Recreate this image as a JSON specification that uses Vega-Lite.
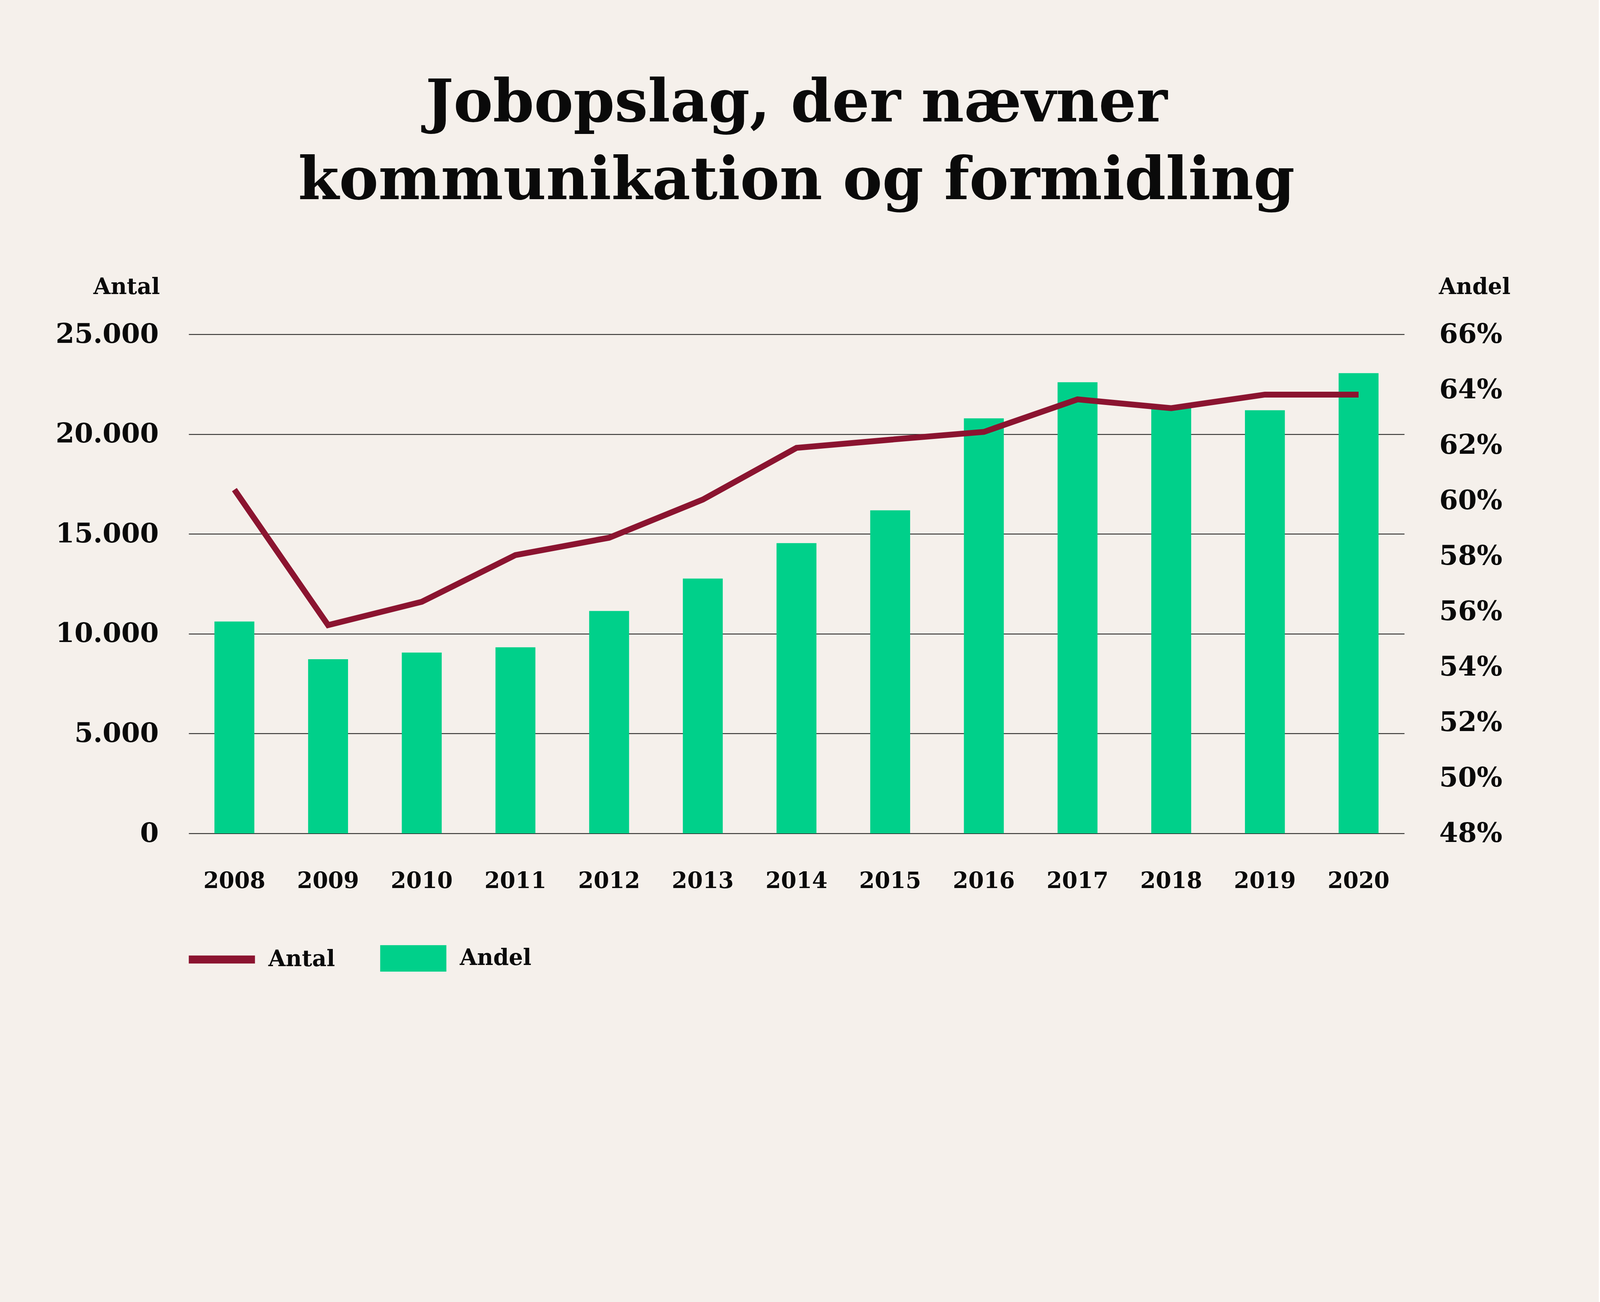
{
  "$schema": "https://vega.github.io/schema/vega-lite/v6.json",
  "autosize": {"type": "none"},
  "width": 3112,
  "height": 1278,
  "padding": {"left": 483, "top": 856, "right": 498, "bottom": 1200},
  "background": "#f5f0eb",
  "title": {
    "text": ["Jobopslag, der nævner", "kommunikation og formidling"],
    "font": "DejaVu Serif",
    "fontSize": 151,
    "fontWeight": "bold",
    "color": "#0a0a0a",
    "anchor": "middle",
    "frame": "group",
    "lineHeight": 199,
    "offset": 164
  },
  "data": {
    "values": [
      {"year": "2008", "antal": 17220, "andel": 0.5564},
      {"year": "2009", "antal": 10430, "andel": 0.5428},
      {"year": "2010", "antal": 11600, "andel": 0.5452},
      {"year": "2011", "antal": 13940, "andel": 0.5471},
      {"year": "2012", "antal": 14810, "andel": 0.5602},
      {"year": "2013", "antal": 16720, "andel": 0.5719},
      {"year": "2014", "antal": 19310, "andel": 0.5847},
      {"year": "2015", "antal": 19720, "andel": 0.5965},
      {"year": "2016", "antal": 20110, "andel": 0.6297},
      {"year": "2017", "antal": 21740, "andel": 0.6427},
      {"year": "2018", "antal": 21300, "andel": 0.6335},
      {"year": "2019", "antal": 21980, "andel": 0.6326},
      {"year": "2020", "antal": 21980, "andel": 0.6460}
    ]
  },
  "encoding": {
    "x": {
      "field": "year",
      "type": "ordinal",
      "scale": {"paddingInner": 0.574, "paddingOuter": 0.275},
      "axis": {
        "title": null,
        "labelAngle": 0,
        "ticks": false,
        "domain": false,
        "labelPadding": 94,
        "labelLimit": 0,
        "labelFont": "DejaVu Serif",
        "labelFontWeight": "bold",
        "labelFontSize": 57,
        "labelColor": "#0a0a0a"
      }
    }
  },
  "layer": [
    {
      "mark": {"type": "bar"},
      "encoding": {
        "y": {
          "field": "andel",
          "type": "quantitative",
          "scale": {"domain": [0.48, 0.66], "zero": false, "nice": false},
          "axis": {
            "orient": "right",
            "values": [0.48, 0.50, 0.52, 0.54, 0.56, 0.58, 0.60, 0.62, 0.64, 0.66],
            "format": ".0%",
            "grid": false,
            "domain": false,
            "ticks": false,
            "labelPadding": 89,
            "labelLimit": 0,
            "labelFont": "DejaVu Serif",
            "labelFontWeight": "bold",
            "labelFontSize": 69,
            "labelColor": "#0a0a0a",
            "labelAlign": "left",
            "title": "Andel",
            "titleAngle": 0,
            "titleX": 88,
            "titleY": -104,
            "titleAlign": "left",
            "titleBaseline": "alphabetic",
            "titleLimit": 0,
            "titleFont": "DejaVu Serif",
            "titleFontWeight": "bold",
            "titleFontSize": 57,
            "titleColor": "#0a0a0a"
          }
        },
        "y2": {"datum": 0.48},
        "color": {
          "datum": "Andel",
          "scale": {"domain": ["Antal", "Andel"], "range": ["#8b1430", "#00d08a"]}
        }
      }
    },
    {
      "mark": {"type": "line", "strokeWidth": 15, "strokeCap": "butt", "strokeJoin": "miter"},
      "encoding": {
        "y": {
          "field": "antal",
          "type": "quantitative",
          "scale": {"domain": [0, 25000], "nice": false},
          "axis": {
            "orient": "left",
            "values": [0, 5000, 10000, 15000, 20000, 25000],
            "labelExpr": "replace(format(datum.value, ','), ',', '.')",
            "grid": true,
            "gridColor": "#111111",
            "gridWidth": 2.2,
            "gridOpacity": 1,
            "domain": false,
            "ticks": false,
            "labelPadding": 77,
            "labelLimit": 0,
            "labelFont": "DejaVu Serif",
            "labelFontWeight": "bold",
            "labelFontSize": 69,
            "labelColor": "#0a0a0a",
            "title": "Antal",
            "titleAngle": 0,
            "titleX": -74,
            "titleY": -104,
            "titleAlign": "right",
            "titleBaseline": "alphabetic",
            "titleLimit": 0,
            "titleFont": "DejaVu Serif",
            "titleFontWeight": "bold",
            "titleFontSize": 57,
            "titleColor": "#0a0a0a"
          }
        },
        "color": {
          "datum": "Antal",
          "legend": {
            "title": null,
            "orient": "none",
            "legendX": 0,
            "legendY": 1513,
            "direction": "horizontal",
            "padding": 0,
            "symbolSize": 28700,
            "labelOffset": 34,
            "columnPadding": 115,
            "labelFont": "DejaVu Serif",
            "labelFontWeight": "bold",
            "labelFontSize": 57,
            "labelColor": "#0a0a0a",
            "labelLimit": 0,
            "encode": {
              "symbols": {
                "update": {
                  "shape": {"signal": "datum.value === 'Antal' ? 'M-1,-0.121H1V0.121H-1Z' : 'M-1,-0.4H1V0.4H-1Z'"},
                  "fill": {"signal": "datum.value === 'Antal' ? '#8b1430' : '#00d08a'"},
                  "stroke": {"value": "transparent"},
                  "strokeWidth": {"value": 0},
                  "opacity": {"value": 1}
                }
              }
            }
          }
        }
      }
    }
  ],
  "resolve": {"scale": {"y": "independent"}},
  "config": {
    "view": {"stroke": null}
  }
}
